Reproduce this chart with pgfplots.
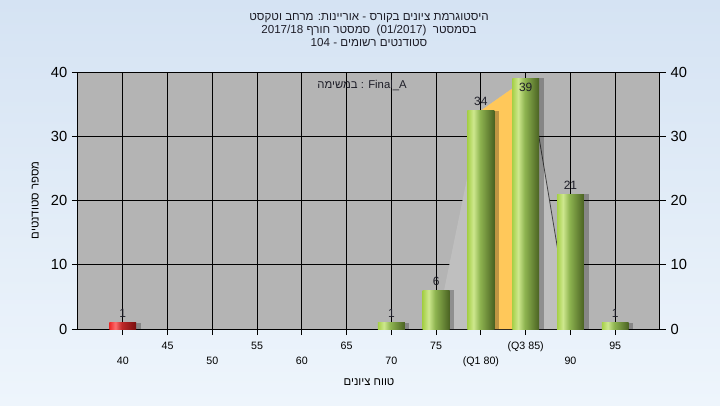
\documentclass[border=0pt]{standalone}
\usepackage{pgfplots}
\pgfplotsset{compat=1.18}
\usepackage{fontspec}
\setmainfont{Liberation Sans}
\newfontfamily\hebfont[Script=Hebrew]{Liberation Sans}
\TeXXeTstate=1
\definecolor{plotgray}{RGB}{180,180,180}
\definecolor{lightpoly}{RGB}{191,191,191}
\definecolor{qorange}{RGB}{255,200,90}
\definecolor{bgtop}{RGB}{213,227,243}
\definecolor{bgbot}{RGB}{238,245,252}
\definecolor{ga}{RGB}{166,208,72}
\definecolor{gb}{RGB}{206,232,142}
\definecolor{gc}{RGB}{142,180,80}
\definecolor{gd}{RGB}{74,98,34}
\definecolor{ra}{RGB}{235,40,40}
\definecolor{rb}{RGB}{255,110,110}
\definecolor{rc}{RGB}{190,40,40}
\definecolor{rd}{RGB}{120,15,15}
\definecolor{labcol}{RGB}{30,30,40}
\pgfdeclarehorizontalshading{greenbar}{100bp}{color(0bp)=(ga); color(25bp)=(ga); color(36bp)=(gb); color(48bp)=(gc); color(75bp)=(gd); color(100bp)=(gd)}
\pgfdeclarehorizontalshading{redbar}{100bp}{color(0bp)=(ra); color(25bp)=(ra); color(36bp)=(rb); color(48bp)=(rc); color(75bp)=(rd); color(100bp)=(rd)}
\pgfplotsset{/pgf/number format/assume math mode=true,
  gbar/.style={ybar, bar width=3, bar shift=0pt, draw=none, shade, shading=greenbar, nodes near coords},
  sbar/.style={ybar, bar width=3, bar shift=3.5pt, fill=black, fill opacity=0.25, draw=none}}
\begin{document}
\begin{tikzpicture}
\path[use as bounding box] (-58.5pt,-57pt) rectangle (481.5pt,246.75pt);
\shade[top color=bgtop, bottom color=bgbot] (-58.5pt,-57pt) rectangle (481.5pt,246.75pt);
\begin{axis}[
  at={(0pt,0pt)}, anchor=south west,
  scale only axis, width=436.5pt, height=192.75pt,
  xmin=35, xmax=100, ymin=0, ymax=40,
  axis background/.style={fill=plotgray},
  xtick={45,55,65,75,85,95},
  xticklabels={45,55,65,75,(Q3 85),95},
  extra x ticks={40,50,60,70,80,90},
  extra x tick labels={40,50,60,70,(Q1 80),90},
  extra x tick style={grid=major, tick label style={yshift=-11.25pt}},
  ytick={0,10,20,30,40},
  grid=major, major grid style={black, line width=0.75pt},
  tick align=outside, major tick length=4.5pt,
  tick style={black, line width=0.75pt},
  axis line style={black, line width=0.75pt},
  xtick pos=bottom, ytick pos=left,
  x tick label style={font=\fontsize{8}{9}\selectfont, black, yshift=-1.8pt},
  y tick label style={font=\fontsize{11}{12}\selectfont, black},
  ylabel={\hebfont\beginR מספר סטודנטים\endR},
  ylabel style={at={(axis description cs:-0.0733,0.5)}, anchor=center, font=\fontsize{8.5}{10}\selectfont},
  xlabel={\hebfont\beginR טווח ציונים\endR},
  xlabel style={at={(axis description cs:0.5,-0.2075)}, anchor=center, font=\fontsize{8.5}{10}\selectfont},
  nodes near coords style={font=\fontsize{9}{10}\selectfont, text=labcol},
]
% frequency polygon area (light gray)
\addplot[fill=lightpoly, draw=none] coordinates {(75,0) (80,34) (85,38.9) (85.4,38.9) (90,0.5) (90,0) (75,0)} \closedcycle;
% Q1-Q3 area (orange)
\addplot[fill=qorange, draw=none] coordinates {(80,0) (80,34) (85,38.9) (85,0)} \closedcycle;
% edge line
\addplot[color=black!75, line width=0.6pt] coordinates {(85.4,38.9) (90,0.5)};
% shadows
\addplot[sbar] coordinates {(40,1)};
\addplot[sbar] coordinates {(70,1)};
\addplot[sbar] coordinates {(75,6)};
\addplot[sbar] coordinates {(80,34)};
\addplot[sbar] coordinates {(85,39)};
\addplot[sbar] coordinates {(90,21)};
\addplot[sbar] coordinates {(95,1)};
% bars
\addplot[ybar, bar width=3, bar shift=0pt, draw=none, shade, shading=redbar,
  nodes near coords] coordinates {(40,1)};
\addplot[gbar] coordinates {(70,1)};
\addplot[gbar] coordinates {(75,6)};
\addplot[gbar] coordinates {(80,34)};
\addplot[gbar, every node near coord/.append style={anchor=north}] coordinates {(85,39)};
\addplot[gbar] coordinates {(90,21)};
\addplot[gbar] coordinates {(95,1)};
\node[font=\fontsize{8.5}{10}\selectfont, text=labcol] at (rel axis cs:0.488,0.9455) {{\hebfont\beginR במשימה\endR} : Final\_A};
\end{axis}
\begin{axis}[
  at={(0pt,0pt)}, anchor=south west,
  scale only axis, width=436.5pt, height=192.75pt,
  xmin=35, xmax=100, ymin=0, ymax=40,
  hide x axis, axis y line*=right,
  ytick={0,10,20,30,40},
  tick align=outside, major tick length=4.5pt,
  tick style={black, line width=0.75pt},
  axis line style={black, line width=0.75pt},
  y tick label style={font=\fontsize{11}{12}\selectfont, black},
]
\addplot[draw=none] coordinates {(40,0)};
\end{axis}
\node[align=center, font=\fontsize{8.7}{9.4}\selectfont\hebfont, text=labcol] at (218.25pt,224.25pt)
 {\beginR היסטוגרמת ציונים בקורס - אוריינות: מרחב וטקסט\endR\\
  \beginR בסמסטר \ \beginL(01/2017)\endL\ \ סמסטר חורף \beginL 2017/18\endL\endR\\
  \beginR סטודנטים רשומים - \beginL 104\endL\endR};
\end{tikzpicture}
\end{document}
